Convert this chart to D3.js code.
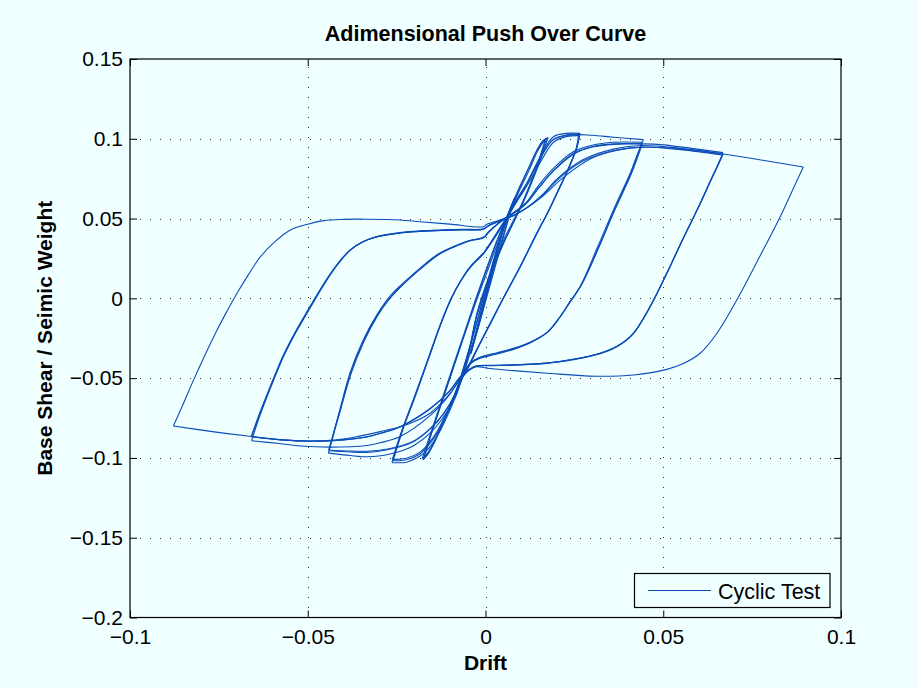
<!DOCTYPE html>
<html>
<head>
<meta charset="utf-8">
<script src="https://cdn.jsdelivr.net/npm/d3@7"></script>
<style>
  html, body { margin: 0; padding: 0; background: #F0FFFF; }
  svg { display: block; }
  text { font-family: "Liberation Sans", Arial, Helvetica, sans-serif; fill: #000; }
</style>
</head>
<body>
<svg id="chart" width="918" height="688"></svg>
<script>
// ---------------- DATA ----------------
const chartTitle = "Adimensional Push Over Curve";
const xLabel = "Drift";
const yLabel = "Base Shear / Seimic Weight";
const seriesName = "Cyclic Test";
const xTicks = [-0.1, -0.05, 0, 0.05, 0.1];
const xTickLabels = ["\u22120.1", "\u22120.05", "0", "0.05", "0.1"];
const yTicks = [0.15, 0.1, 0.05, 0, -0.05, -0.1, -0.15, -0.2];
const yTickLabels = ["0.15", "0.1", "0.05", "0", "\u22120.05", "\u22120.1", "\u22120.15", "\u22120.2"];

// [drift, base shear / seismic weight], in test order
const level1 = [
  [0,0],[0.002,0.019],[0.004,0.036],
  [0.002,0.018],[0,0.001],[-0.002,-0.017],[-0.004,-0.034],
  [-0.002,-0.015],[0,0.003],[0.002,0.021],[0.0041,0.037],
  [0.002,0.017],[0,-0.001],[-0.002,-0.018],[-0.0042,-0.035]
];
const level2 = [
  [-0.002,-0.016],[0,0.002],[0.002,0.02],[0.004,0.036],[0.006,0.05],[0.008,0.062],
  [0.006,0.047],[0.004,0.032],[0.002,0.016],[0,0.0],[-0.002,-0.016],[-0.004,-0.031],[-0.006,-0.045],[-0.008,-0.057],
  [-0.006,-0.042],[-0.004,-0.027],[-0.002,-0.011],[0,0.006],[0.002,0.022],[0.004,0.037],[0.006,0.051],[0.0082,0.063],
  [0.006,0.046],[0.004,0.03],[0.002,0.014],[0,-0.002],[-0.002,-0.018],[-0.004,-0.032],[-0.006,-0.046],[-0.0082,-0.058]
];
const level3 = [
  [-0.006,-0.043],[-0.004,-0.028],[-0.002,-0.012],[0,0.005],[0.003,0.027],[0.006,0.049],[0.009,0.066],[0.012,0.081],[0.0145,0.093],[0.016,0.0985],[0.0172,0.1005],
  [0.0145,0.0825],[0.0107,0.0617],[0.0079,0.0491],[0.0051,0.0366],[0.0013,0.0157],[-0.0024,-0.0093],[-0.0043,-0.0303],[-0.0062,-0.045],[-0.009,-0.062],[-0.0118,-0.077],[-0.0145,-0.091],[-0.016,-0.097],[-0.0175,-0.1012],
  [-0.015,-0.083],[-0.012,-0.063],[-0.009,-0.043],[-0.006,-0.023],[-0.003,-0.003],[0,0.016],[0.003,0.034],[0.006,0.051],[0.009,0.067],[0.012,0.081],[0.0142,0.0915],[0.0156,0.0965],[0.0168,0.0995],
  [0.014,0.08],[0.0105,0.06],[0.0075,0.046],[0.0045,0.032],[0.001,0.012],[-0.0025,-0.011],[-0.0045,-0.031],[-0.0065,-0.047],[-0.0093,-0.064],[-0.012,-0.078],[-0.0143,-0.0895],[-0.0158,-0.0955],[-0.0172,-0.0998],
  [-0.0148,-0.082],[-0.0118,-0.062],[-0.0088,-0.042],[-0.0058,-0.022],[-0.0028,-0.003],[0.0002,0.015],[0.0032,0.033],[0.0062,0.05],[0.0092,0.066],[0.0122,0.08],[0.0147,0.0925],[0.0162,0.0978],[0.0176,0.1008],
  [0.015,0.084],[0.0112,0.063],[0.0082,0.049],[0.0052,0.035],[0.0015,0.015],[-0.0022,-0.009],[-0.0042,-0.029],[-0.0061,-0.044],[-0.0088,-0.061],[-0.0116,-0.076],[-0.0146,-0.0905],[-0.0162,-0.0968],[-0.0178,-0.1005]
];
const level4 = [
  [-0.0152,-0.083],[-0.0122,-0.063],[-0.0092,-0.043],[-0.006,-0.022],[-0.003,-0.002],[0,0.017],[0.003,0.035],[0.006,0.0512],[0.009,0.063],[0.0116,0.0721],[0.0154,0.0888],[0.0191,0.1013],[0.0229,0.1034],[0.0266,0.1034],
  [0.0258,0.095],[0.0235,0.082],[0.021,0.07],[0.0178,0.055],[0.0145,0.0408],[0.0098,0.0199],[0.005,0.0],[0.001,-0.017],[-0.002,-0.03],[-0.0045,-0.041],[-0.0065,-0.05],[-0.0085,-0.062],[-0.011,-0.075],[-0.0135,-0.086],[-0.016,-0.094],[-0.0185,-0.099],[-0.022,-0.1025],[-0.0263,-0.103],
  [-0.0235,-0.083],[-0.0203,-0.0637],[-0.0165,-0.04],[-0.013,-0.018],[-0.0099,-0.001],[-0.007,0.011],[-0.0043,0.0199],[-0.002,0.025],[-0.0006,0.0283],[0.002,0.037],[0.004,0.044],[0.006,0.051],[0.009,0.062],[0.0116,0.0715],[0.0154,0.0875],[0.019,0.0995],[0.0229,0.1025],[0.0262,0.1028],
  [0.0255,0.094],[0.0232,0.081],[0.0207,0.069],[0.0175,0.054],[0.0142,0.04],[0.0095,0.019],[0.0047,-0.001],[0.0008,-0.018],[-0.0022,-0.031],[-0.0046,-0.042],[-0.0066,-0.05],[-0.0086,-0.061],[-0.011,-0.073],[-0.0135,-0.084],[-0.016,-0.092],[-0.0185,-0.0975],[-0.022,-0.101],[-0.026,-0.1018],
  [-0.0232,-0.082],[-0.02,-0.063],[-0.0162,-0.039],[-0.0127,-0.017],[-0.0096,0.0],[-0.0067,0.012],[-0.004,0.0205],[-0.0017,0.026],[-0.0003,0.029],[0.0022,0.037],[0.0042,0.044],[0.0062,0.051],[0.0092,0.062],[0.0118,0.071],[0.0156,0.086],[0.0192,0.098],[0.023,0.1015],[0.0263,0.102],
  [0.0256,0.094],[0.0233,0.081],[0.0208,0.069],[0.0176,0.054],[0.0143,0.04],[0.0096,0.019],[0.0048,-0.001],[0.0009,-0.018],[-0.0021,-0.031],[-0.0045,-0.042],[-0.0066,-0.05],[-0.0086,-0.061],[-0.011,-0.072],[-0.0135,-0.083],[-0.016,-0.091],[-0.0185,-0.0965],[-0.022,-0.1],[-0.0262,-0.101]
];
const level5 = [
  [-0.0234,-0.082],[-0.0202,-0.063],[-0.0164,-0.04],[-0.0129,-0.018],[-0.0098,-0.001],[-0.0069,0.011],[-0.0042,0.0195],[-0.0019,0.0248],[-0.0005,0.028],[0.002,0.036],[0.004,0.043],[0.006,0.051],[0.009,0.062],[0.0116,0.072],[0.0154,0.088],[0.0191,0.0995],[0.025,0.1025],[0.03,0.1022],[0.036,0.101],[0.0444,0.0995],
  [0.0425,0.089],[0.041,0.080],[0.036,0.0554],[0.0315,0.032],[0.0266,0.0073],[0.0238,-0.002],[0.021,-0.0115],[0.0173,-0.0215],[0.0125,-0.028],[0.0079,-0.032],[0.003,-0.035],[-0.0015,-0.0375],[-0.004,-0.0405],[-0.006,-0.047],[-0.0085,-0.062],[-0.012,-0.075],[-0.0156,-0.0845],[-0.02,-0.092],[-0.0249,-0.0965],[-0.03,-0.0988],[-0.0334,-0.0993],[-0.038,-0.0985],[-0.0442,-0.097],
  [-0.041,-0.07],[-0.038,-0.046],[-0.0345,-0.0265],[-0.0306,-0.0105],[-0.0272,0.0005],[-0.0237,0.0085],[-0.0182,0.0193],[-0.0135,0.0275],[-0.009,0.0325],[-0.0045,0.0363],[-0.0006,0.0383],[0.001,0.042],[0.0035,0.047],[0.006,0.051],[0.009,0.0555],[0.0116,0.0605],[0.015,0.071],[0.0191,0.0815],[0.0248,0.092],[0.030,0.096],[0.036,0.0978],[0.0440,0.0978],
  [0.041,0.079],[0.0362,0.055],[0.0318,0.032],[0.0268,0.008],[0.0235,-0.003],[0.021,-0.0115],[0.0175,-0.021],[0.0127,-0.0275],[0.008,-0.0315],[0.003,-0.0345],[-0.0015,-0.037],[-0.004,-0.040],[-0.006,-0.046],[-0.0085,-0.06],[-0.012,-0.073],[-0.0156,-0.082],[-0.02,-0.0895],[-0.0249,-0.0935],[-0.03,-0.0958],[-0.0334,-0.0965],[-0.038,-0.0963],[-0.0440,-0.0955],
  [-0.0408,-0.07],[-0.0378,-0.047],[-0.0343,-0.0275],[-0.0304,-0.011],[-0.027,-0.0002],[-0.0235,0.008],[-0.018,0.0189],[-0.0133,0.0272],[-0.0088,0.0322],[-0.0044,0.036],[-0.0005,0.038],[0.0011,0.0418],[0.0036,0.0468],[0.0061,0.0508],[0.009,0.055],[0.0117,0.06],[0.0152,0.07],[0.0193,0.0805],[0.025,0.0912],[0.0302,0.0952],[0.0362,0.0968],[0.0441,0.0968],
  [0.0412,0.079],[0.0363,0.055],[0.0319,0.032],[0.0269,0.008],[0.0236,-0.003],[0.0211,-0.0112],[0.0176,-0.0208],[0.0128,-0.0272],[0.0081,-0.0312],[0.0031,-0.0342],[-0.0014,-0.0368],[-0.0039,-0.0398],[-0.0059,-0.0455],[-0.0084,-0.0595],[-0.0119,-0.0725],[-0.0155,-0.0815],[-0.0199,-0.089],[-0.0248,-0.093],[-0.0299,-0.0952],[-0.0333,-0.0958],[-0.0379,-0.0957],[-0.0441,-0.095],
  [-0.0409,-0.07],[-0.0379,-0.047],[-0.0344,-0.0275],[-0.0305,-0.011],[-0.0271,-0.0005],[-0.0236,0.0078],[-0.0181,0.0191],[-0.0134,0.0273],[-0.0089,0.0323],[-0.0045,0.0361],[-0.0006,0.0381],[0.001,0.0419],[0.0035,0.0467],[0.006,0.0508],[0.009,0.0548],[0.0116,0.0598],[0.0151,0.0695],[0.0192,0.08],[0.0249,0.0905],[0.0301,0.0948],[0.0361,0.0965],[0.0444,0.0968],[0.05,0.0962],[0.058,0.094],[0.0668,0.0913]
];
const level6 = [
  [0.0652,0.083],[0.0635,0.075],[0.0604,0.0596],[0.0557,0.038],[0.051,0.0157],[0.0463,-0.0052],[0.0416,-0.0219],[0.037,-0.030],[0.0322,-0.0344],[0.025,-0.038],[0.0173,-0.0405],[0.009,-0.0415],[0.002,-0.042],[-0.0025,-0.0423],[-0.0045,-0.0445],[-0.0071,-0.05],[-0.01,-0.06],[-0.0156,-0.0735],[-0.024,-0.0866],[-0.0296,-0.0905],[-0.0334,-0.0922],[-0.0437,-0.0932],[-0.052,-0.0925],[-0.058,-0.091],[-0.0658,-0.0892],
  [-0.0637,-0.075],[-0.0615,-0.062],[-0.0568,-0.0365],[-0.0535,-0.022],[-0.0502,-0.0093],[-0.0446,0.0115],[-0.0413,0.022],[-0.038,0.0303],[-0.0345,0.0355],[-0.0306,0.0387],[-0.024,0.0412],[-0.0184,0.0423],[-0.012,0.0429],[-0.006,0.0433],[-0.0006,0.0436],[0.001,0.0458],[0.004,0.0488],[0.0079,0.052],[0.012,0.0575],[0.016,0.065],[0.02,0.0745],[0.024,0.082],[0.028,0.0875],[0.036,0.0935],[0.044,0.0958],[0.055,0.094],[0.0668,0.0905],
  [0.0651,0.082],[0.0634,0.074],[0.0603,0.059],[0.0556,0.0375],[0.0509,0.0152],[0.0462,-0.0056],[0.0415,-0.0222],[0.0369,-0.0302],[0.0321,-0.0346],[0.0249,-0.0382],[0.0172,-0.0406],[0.0089,-0.0416],[0.0019,-0.0421],[-0.0026,-0.0424],[-0.0046,-0.0446],[-0.0072,-0.0495],[-0.0101,-0.058],[-0.0156,-0.069],[-0.024,-0.0804],[-0.0296,-0.0845],[-0.0334,-0.0868],[-0.0437,-0.0892],[-0.052,-0.0893],[-0.058,-0.0885],[-0.0658,-0.0866],
  [-0.0638,-0.074],[-0.0616,-0.0615],[-0.0569,-0.0362],[-0.0536,-0.0218],[-0.0503,-0.009],[-0.0447,0.0117],[-0.0414,0.0221],[-0.0381,0.0302],[-0.0346,0.0353],[-0.0307,0.0385],[-0.0241,0.041],[-0.0185,0.042],[-0.0121,0.0426],[-0.0061,0.043],[-0.0007,0.0433],[0.0009,0.0455],[0.0039,0.0485],[0.0078,0.0518],[0.0119,0.057],[0.0159,0.0642],[0.0199,0.0735],[0.0239,0.081],[0.0279,0.0865],[0.0359,0.0925],[0.0439,0.0948],[0.0549,0.0932],[0.0667,0.0898],
  [0.065,0.0815],[0.0633,0.0735],[0.0602,0.0585],[0.0555,0.037],[0.0508,0.0148],[0.0461,-0.006],[0.0414,-0.0225],[0.0368,-0.0305],[0.032,-0.0348],[0.0248,-0.0384],[0.0171,-0.0408],[0.0088,-0.0418],[0.0018,-0.0422],[-0.0027,-0.0425],[-0.0047,-0.0447],[-0.0073,-0.0497],[-0.0102,-0.0585],[-0.0157,-0.0695],[-0.0241,-0.0806],[-0.0297,-0.0847],[-0.0335,-0.0869],[-0.0438,-0.0893],[-0.0521,-0.0894],[-0.0581,-0.0886],[-0.0659,-0.0867],
  [-0.0639,-0.0742],[-0.0617,-0.0617],[-0.057,-0.0363],[-0.0537,-0.0219],[-0.0504,-0.0091],[-0.0448,0.0116],[-0.0415,0.022],[-0.0382,0.0301],[-0.0347,0.0352],[-0.0308,0.0384],[-0.0242,0.0409],[-0.0186,0.0419],[-0.0122,0.0425],[-0.0062,0.0429],[-0.0008,0.0432],[0.0008,0.0454],[0.0038,0.0484],[0.0077,0.0517],[0.015,0.062],[0.022,0.076],[0.03,0.088],[0.04,0.094],[0.05,0.0945],[0.058,0.093],[0.0668,0.0905],[0.078,0.0865],[0.0894,0.0823]
];
const level7 = [
  [0.0862,0.067],[0.0829,0.0512],[0.0771,0.026],[0.0712,0.001],[0.0651,-0.0219],[0.0604,-0.0344],[0.0555,-0.041],[0.051,-0.0445],[0.0417,-0.048],[0.031,-0.0488],[0.0173,-0.0469],[0.0079,-0.0453],[0.0004,-0.0438],[-0.0025,-0.0428],[-0.0045,-0.045],[-0.0071,-0.051],[-0.0105,-0.061],[-0.0156,-0.072],[-0.022,-0.079],[-0.0296,-0.0835],[-0.037,-0.087],[-0.0437,-0.089],[-0.052,-0.0893],[-0.058,-0.0885],[-0.0658,-0.0866],[-0.0768,-0.0835],[-0.0878,-0.08],
  [-0.085,-0.066],[-0.0821,-0.0511],[-0.0788,-0.035],[-0.0755,-0.0198],[-0.0727,-0.008],[-0.0699,0.0032],[-0.0665,0.0155],[-0.0633,0.0261],[-0.059,0.036],[-0.0549,0.0429],[-0.05,0.0465],[-0.0455,0.0487],[-0.04,0.0495],[-0.0334,0.0496],[-0.024,0.0491],[-0.0184,0.048],[-0.01,0.0465],[-0.0006,0.0449],[0.0004,0.0465],[0.0041,0.0491],[0.0079,0.0522]
];

// ---------------- CHART ----------------
const W = 918, H = 688;
const plot = { left: 130, right: 841, top: 59, bottom: 617.5 };
const lineColor = "#0b4db8";
const fontFamily = '"Liberation Sans", Arial, Helvetica, sans-serif';
const svg = d3.select("#chart");

svg.append("rect").attr("x", 0).attr("y", 0).attr("width", W).attr("height", H).attr("fill", "#F0FFFF");

const x = d3.scaleLinear().domain([-0.1, 0.1]).range([plot.left, plot.right]);
const y = d3.scaleLinear().domain([-0.2, 0.15]).range([plot.bottom, plot.top]);

// grid
const grid = svg.append("g").attr("stroke", "#333").attr("stroke-width", 1).attr("stroke-dasharray", "1,9").attr("shape-rendering", "crispEdges");
grid.selectAll("line.gx").data(xTicks.slice(1, -1)).join("line")
  .attr("x1", d => Math.round(x(d)) + 0.5).attr("x2", d => Math.round(x(d)) + 0.5)
  .attr("y1", plot.bottom).attr("y2", plot.top);
grid.selectAll("line.gy").data(yTicks.slice(1, -1)).join("line")
  .attr("y1", d => Math.round(y(d)) + 0.5).attr("y2", d => Math.round(y(d)) + 0.5)
  .attr("x1", plot.left).attr("x2", plot.right);

// data line, split into branches at each drift reversal
const pts = [].concat(level1, level2, level3, level4, level5, level6, level7);
const branches = [];
let cur = [pts[0]], dir = 0;
for (let i = 1; i < pts.length; i++) {
  const d = Math.sign(pts[i][0] - pts[i - 1][0]);
  if (dir !== 0 && d !== 0 && d !== dir) { branches.push(cur); cur = [pts[i - 1]]; }
  if (d !== 0) dir = d;
  cur.push(pts[i]);
}
branches.push(cur);

const line = d3.line().x(d => x(d[0])).y(d => y(d[1])).curve(d3.curveCatmullRom.alpha(0.5));
svg.append("g")
  .selectAll("path").data(branches).join("path")
  .attr("d", line).attr("fill", "none").attr("stroke", lineColor).attr("stroke-width", 1.1)
  .attr("stroke-linejoin", "round");

// axes (MATLAB style: inner ticks on all sides)
const tickLen = 7;
const axB = d3.axisBottom(x).tickValues(xTicks).tickSize(-tickLen).tickPadding(12).tickFormat((d, i) => xTickLabels[i]);
const axT = d3.axisTop(x).tickValues(xTicks).tickSize(-tickLen).tickFormat("");
const axL = d3.axisLeft(y).tickValues(yTicks).tickSize(-tickLen).tickPadding(7).tickFormat((d, i) => yTickLabels[i]);
const axR = d3.axisRight(y).tickValues(yTicks).tickSize(-tickLen).tickFormat("");

function styleAxis(g) {
  g.select(".domain").remove();
  g.selectAll(".tick line").attr("stroke", "#000");
  g.selectAll(".tick text").attr("font-size", 21).attr("fill", "#000").attr("font-family", fontFamily);
}
svg.append("g").attr("transform", `translate(0,${plot.bottom})`).call(axB).call(styleAxis);
svg.append("g").attr("transform", `translate(0,${plot.top})`).call(axT).call(styleAxis);
svg.append("g").attr("transform", `translate(${plot.left},0)`).call(axL).call(styleAxis);
svg.append("g").attr("transform", `translate(${plot.right},0)`).call(axR).call(styleAxis);

// box
svg.append("rect").attr("x", plot.left).attr("y", plot.top)
  .attr("width", plot.right - plot.left).attr("height", plot.bottom - plot.top)
  .attr("fill", "none").attr("stroke", "#000").attr("stroke-width", 1.2);

// title and labels
svg.append("text").attr("x", (plot.left + plot.right) / 2).attr("y", 41)
  .attr("text-anchor", "middle").attr("font-size", 21.5).attr("font-weight", "bold").text(chartTitle);
svg.append("text").attr("x", (plot.left + plot.right) / 2).attr("y", 670)
  .attr("text-anchor", "middle").attr("font-size", 21).attr("font-weight", "bold").text(xLabel);
svg.append("text").attr("transform", `translate(52,${(plot.top + plot.bottom) / 2}) rotate(-90)`)
  .attr("text-anchor", "middle").attr("font-size", 21).attr("font-weight", "bold").text(yLabel);

// legend
const lg = svg.append("g");
lg.append("rect").attr("x", 634.5).attr("y", 573.5).attr("width", 195.5).attr("height", 34)
  .attr("fill", "#F0FFFF").attr("stroke", "#000").attr("stroke-width", 1.2);
lg.append("line").attr("x1", 648).attr("x2", 711).attr("y1", 590.5).attr("y2", 590.5)
  .attr("stroke", lineColor).attr("stroke-width", 1.1);
lg.append("text").attr("x", 718).attr("y", 599).attr("font-size", 21.5).text(seriesName);
</script>
</body>
</html>
